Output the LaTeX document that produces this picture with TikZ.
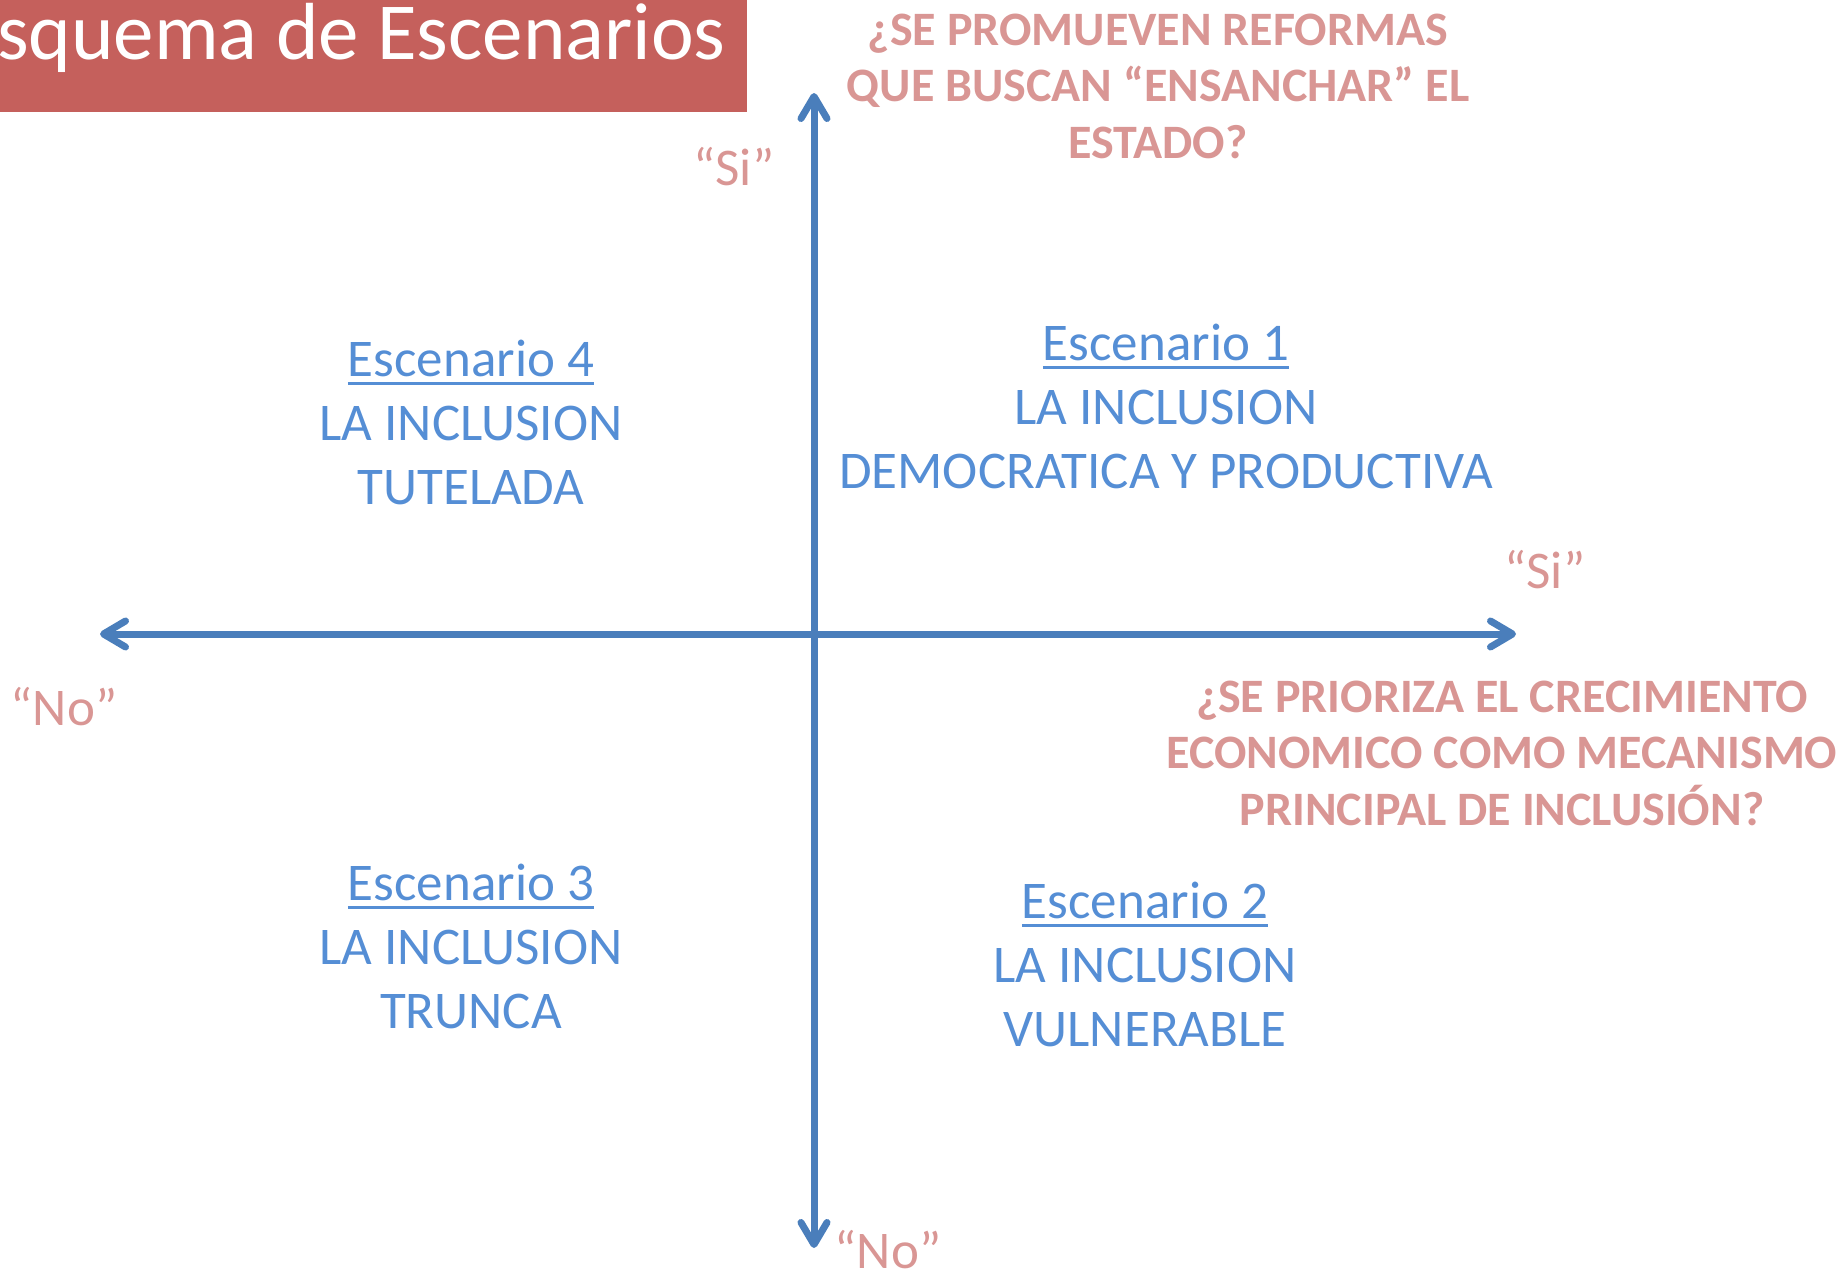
\documentclass[tikz,border=0pt]{standalone}
\usepackage{fontspec}
\setmainfont{Carlito}
\usetikzlibrary{arrows.meta}
\definecolor{titlered}{RGB}{197,96,92}
\definecolor{qpink}{RGB}{217,150,148}
\definecolor{scblue}{RGB}{85,142,213}
\definecolor{axisblue}{RGB}{74,126,187}
\newcommand\scul[1]{\setbox0\hbox{#1}\rlap{\rule[-8.5pt]{\wd0}{3pt}}\box0}
\tikzset{
  txt/.style={inner sep=0pt, anchor=base},
  question/.style={txt, text=qpink, font=\fontsize{48}{58}\selectfont\bfseries},
  answer/.style={txt, text=qpink, font=\fontsize{53}{63}\selectfont},
  scen/.style={txt, text=scblue, font=\fontsize{53}{63}\selectfont},
  axis/.style={draw=axisblue, line width=7pt, line cap=round,
    arrows={Straight Barb[length=22pt,width=26pt,round]-Straight Barb[length=22pt,width=26pt,round]}}
}
\begin{document}
\begin{tikzpicture}[x=1pt,y=-1pt]
\useasboundingbox (0,0) rectangle (1837,1274);
% title
\fill[titlered] (0,0) rectangle (747,112);
\node[txt, anchor=base west, text=white, font=\fontsize{81}{92}\selectfont] (title) at (-3,59) {squema de Escenarios};
% axes
\coordinate (L) at (100,634);
\coordinate (R) at (1516,634);
\coordinate (T) at (814,93);
\coordinate (B) at (814,1248);
\draw[axis] (L) -- (R);
\draw[axis] (B) -- (T);
% vertical question
\node[question] (q1a) at (1158,45) {¿SE PROMUEVEN REFORMAS};
\node[question] (q1b) at (1158,101) {QUE BUSCAN “ENSANCHAR” EL};
\node[question] (q1c) at (1158,158) {ESTADO?};
% horizontal question
\node[question] (q2a) at (1502,712) {¿SE PRIORIZA EL CRECIMIENTO};
\node[question] (q2b) at (1502,768) {ECONOMICO COMO MECANISMO};
\node[question] (q2c) at (1502,825) {PRINCIPAL DE INCLUSIÓN?};
% answers
\node[answer] (siT) at (734,185) {“Si”};
\node[answer, text depth=0pt] (noB) at (888,1268) {“No”};
\node[answer] (siR) at (1545,588) {“Si”};
\node[answer] (noL) at (64,725) {“No”};
% scenario 1
\node[scen] (s1a) at (1166,360) {\scul{Escenario 1}};
\node[scen] (s1b) at (1166,424) {LA INCLUSION};
\node[scen] (s1c) at (1166,488) {DEMOCRATICA Y PRODUCTIVA};
% scenario 2
\node[scen] (s2a) at (1145,918) {\scul{Escenario 2}};
\node[scen] (s2b) at (1145,982) {LA INCLUSION};
\node[scen] (s2c) at (1145,1046) {VULNERABLE};
% scenario 3
\node[scen] (s3a) at (471,900) {\scul{Escenario 3}};
\node[scen] (s3b) at (471,964) {LA INCLUSION};
\node[scen] (s3c) at (471,1028) {TRUNCA};
% scenario 4
\node[scen] (s4a) at (471,376) {\scul{Escenario 4}};
\node[scen] (s4b) at (471,440) {LA INCLUSION};
\node[scen] (s4c) at (471,504) {TUTELADA};
\end{tikzpicture}
\end{document}
